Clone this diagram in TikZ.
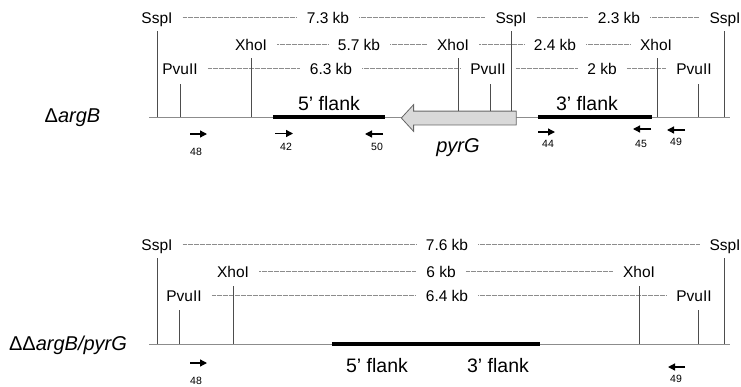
\documentclass[tikz,border=0pt]{standalone}
\usepackage{fontspec}
\setmainfont{Liberation Sans}
\usetikzlibrary{arrows.meta,shapes.arrows}
\definecolor{dnagrey}{HTML}{8C8C8C}
\definecolor{sitegrey}{HTML}{4D4D4D}
\tikzset{enz/.style={font=\fontsize{15.5}{18}\selectfont,anchor=base,text height=11pt,text depth=0pt,inner xsep=10pt,inner ysep=2pt}}
\tikzset{flanklabel/.style={font=\fontsize{19.5}{22}\selectfont,anchor=base,inner sep=0pt}}
\tikzset{strain/.style={font=\fontsize{20}{23}\selectfont,anchor=base,inner sep=0pt}}
\tikzset{primerno/.style={font=\fontsize{10.5}{12}\selectfont,anchor=base,inner sep=0pt}}
\tikzset{dna/.style={draw=dnagrey,line width=1pt}}
\tikzset{flank/.style={draw=black,line width=4pt}}
\tikzset{site/.style={draw=sitegrey,line width=0.9pt,shorten >=6pt}}
\tikzset{sizeline/.style={draw=dnagrey,line width=0.5pt,dash pattern=on 0.8pt off 0.4pt}}
\tikzset{primer/.style={-{Triangle[length=7pt,width=7pt]},line width=1.3pt}}

\begin{document}
\begin{tikzpicture}[x=1pt,y=-1pt]
\useasboundingbox (0,0) rectangle (741,386);
% \draw[help lines,step=50] (0,0) grid (741,386);

%%% deletion strain
\node (dA) [strain] at (72.5,122) {Δ\textit{argB}};
\coordinate (la) at (149,117);
\coordinate (lb) at (730,117);
\path[dna] (la) edge (lb);
\coordinate (f5a) at (273,117);
\coordinate (f5b) at (385,117);
\coordinate (f3a) at (538,117);
\coordinate (f3b) at (652,117);
\path[flank] (f5a) edge (f5b);
\path[flank] (f3a) edge (f3b);
\node (pyrg) [single arrow,shape border rotate=180,draw=black!60,fill=black!15,line width=0.8pt,
  minimum height=115pt,minimum width=26pt,single arrow head extend=6.5pt,single arrow tip angle=95,
  inner xsep=0pt,inner ysep=6.5pt] at (462,118) {};
\node (n5a) [flanklabel] at (329,110) {5’ flank};
\node (n3a) [flanklabel] at (587,110) {3’ flank};
\node (npyrg) [strain] at (458,152) {\textit{pyrG}};

% enzymes
\node (s1) [enz] at (157,23) {SspI};
\node (s2) [enz] at (511,23) {SspI};
\node (s3) [enz] at (725,23) {SspI};
\node (x1) [enz] at (251,50) {XhoI};
\node (x2) [enz] at (453,50) {XhoI};
\node (x3) [enz] at (656,50) {XhoI};
\node (p1) [enz] at (180,74) {PvuII};
\node (p2) [enz] at (488,74) {PvuII};
\node (p3) [enz] at (694,74) {PvuII};
\node (t73) [enz] at (328,23) {7.3 kb};
\node (t23) [enz] at (619,23) {2.3 kb};
\node (t57) [enz] at (359,50) {5.7 kb};
\node (t24) [enz] at (555,50) {2.4 kb};
\node (t63) [enz] at (331,74) {6.3 kb};
\node (t2) [enz] at (602,74) {2 kb};
%
\path[sizeline] (s1) edge (t73) (t73) edge (s2) (s2) edge (t23) (t23) edge (s3);
\path[sizeline] (x1) edge (t57) (t57) edge (x2) (x2) edge (t24) (t24) edge (x3);
\path[sizeline] (p1) edge (t63) (t63) edge (p2) (p2) edge (t2) (t2) edge (p3);
% cut sites
\coordinate (cs1) at (157,117);
\coordinate (cp1) at (180,117);
\coordinate (cx1) at (251,117);
\coordinate (cx2) at (458,111);
\coordinate (cp2) at (490,111);
\coordinate (cs2) at (511,111);
\coordinate (cx3) at (657,117);
\coordinate (cp3) at (698,117);
\coordinate (cs3) at (724,117);
\path[site] (cs1) edge (cs1 |- s1.south) (cs2) edge (cs2 |- s2.south) (cs3) edge (cs3 |- s3.south);
\path[site] (cx1) edge (cx1 |- x1.south) (cx2) edge (cx2 |- x2.south) (cx3) edge (cx3 |- x3.south);
\path[site,shorten >=8pt] (cp1) edge (cp1 |- p1.south) (cp2) edge (cp2 |- p2.south) (cp3) edge (cp3 |- p3.south);
% primers
\coordinate (a48) at (190,134); \coordinate (b48) at (207,134);
\coordinate (a42) at (275,133.5); \coordinate (b42) at (293,133.5);
\coordinate (a50) at (383,134); \coordinate (b50) at (365,134);
\coordinate (a44) at (538,132); \coordinate (b44) at (555,132);
\coordinate (a45) at (651,129); \coordinate (b45) at (633,129);
\coordinate (a49) at (685,130); \coordinate (b49) at (667,130);
\path[primer] (a48) edge (b48) (a42) edge (b42) (a50) edge (b50);
\path[primer] (a44) edge (b44) (a45) edge (b45) (a49) edge (b49);
\node (n48) [primerno] at (196,155) {48};
\node (n42) [primerno] at (286,150) {42};
\node (n50) [primerno] at (377,150) {50};
\node (n44) [primerno] at (548,147) {44};
\node (n45) [primerno] at (641,147) {45};
\node (n49) [primerno] at (676,145) {49};

%%% double deletion strain
\node (dB) [strain] at (68,350) {ΔΔ\textit{argB/pyrG}};
\coordinate (lc) at (149,344);
\coordinate (ld) at (730,344);
\path[dna] (lc) edge (ld);
\coordinate (fa) at (332,344);
\coordinate (fb) at (540,344);
\path[flank] (fa) edge (fb);
\node (n5b) [flanklabel] at (377,372) {5’ flank};
\node (n3b) [flanklabel] at (498,372) {3’ flank};

% enzymes
\node (s4) [enz] at (157,250) {SspI};
\node (s5) [enz] at (725,250) {SspI};
\node (x4) [enz] at (233,277) {XhoI};
\node (x5) [enz] at (639,277) {XhoI};
\node (p4) [enz] at (184,301) {PvuII};
\node (p5) [enz] at (694,301) {PvuII};
\node (t76) [enz] at (447,250) {7.6 kb};
\node (t6) [enz] at (441,277) {6 kb};
\node (t64) [enz] at (447,301) {6.4 kb};
%
\path[sizeline] (s4) edge (t76) (t76) edge (s5);
\path[sizeline] (x4) edge (t6) (t6) edge (x5);
\path[sizeline] (p4) edge (t64) (t64) edge (p5);
% cut sites
\coordinate (cs4) at (157,344);
\coordinate (cp4) at (179,344);
\coordinate (cx4) at (233,344);
\coordinate (cx5) at (639,344);
\coordinate (cp5) at (698,344);
\coordinate (cs5) at (724,344);
\path[site] (cs4) edge (cs4 |- s4.south) (cs5) edge (cs5 |- s5.south);
\path[site,shorten >=7pt] (cx4) edge (cx4 |- x4.south) (cx5) edge (cx5 |- x5.south);
\path[site,shorten >=7pt] (cp4) edge (cp4 |- p4.south) (cp5) edge (cp5 |- p5.south);
% primers
\coordinate (a48b) at (190,363); \coordinate (b48b) at (207,363);
\coordinate (a49b) at (685,367); \coordinate (b49b) at (668,367);
\path[primer] (a48b) edge (b48b) (a49b) edge (b49b);
\node (n48b) [primerno] at (196,384) {48};
\node (n49b) [primerno] at (676,382) {49};
\end{tikzpicture}
\end{document}
